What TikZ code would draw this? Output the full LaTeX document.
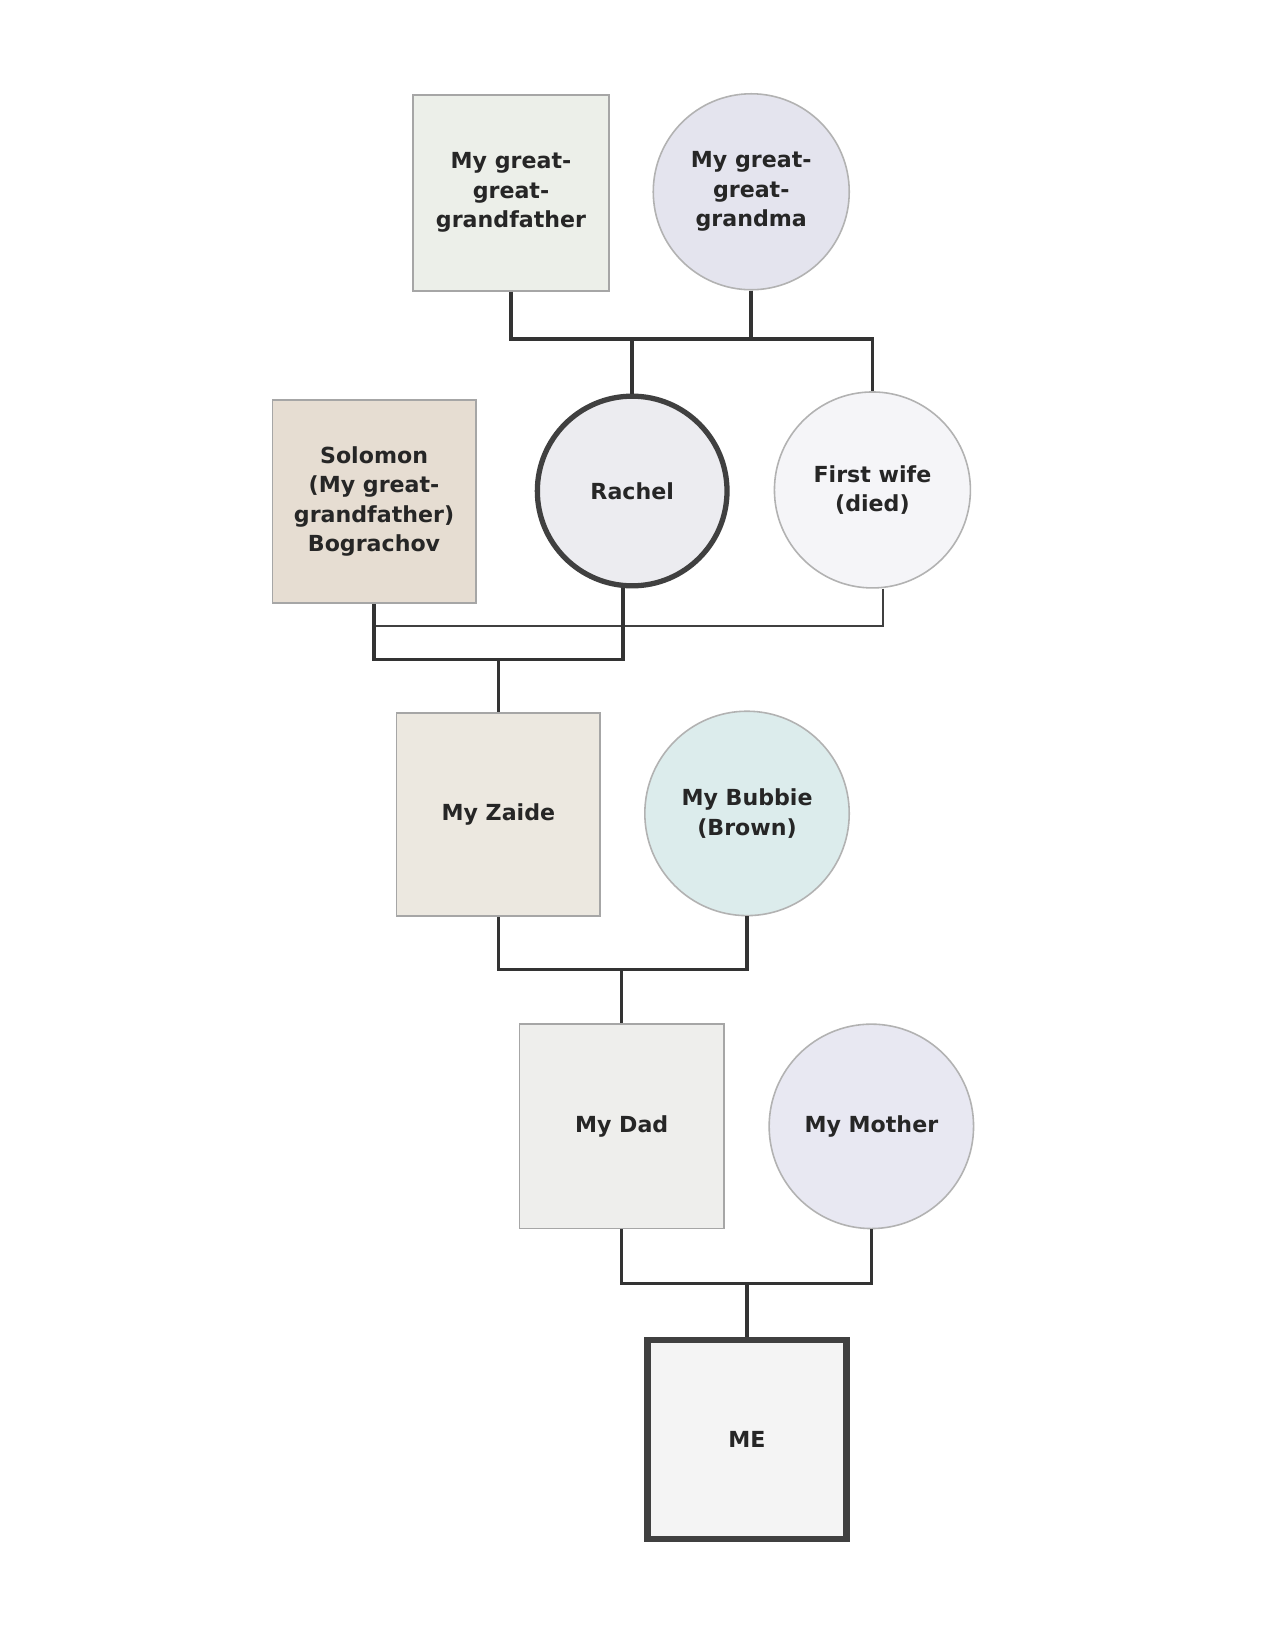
\documentclass[tikz,border=0pt]{standalone}
\usepackage{fontspec}
\setmainfont{DejaVu Sans}
\begin{document}
\begin{tikzpicture}[x=1pt,y=-1pt,
  txt/.style={font=\bfseries\fontsize{21}{28}\selectfont, text=black!85, align=center},
  sq/.style={txt, draw=gray!70, line width=1.5pt, minimum size=#1, inner sep=0pt},
  ci/.style={txt, circle, draw=gray!60, line width=1.5pt, minimum size=#1, inner sep=0pt},
  ln/.style={draw=black!80, line width=3.5pt},
  thin/.style={draw=black!75, line width=1.5pt}]
\useasboundingbox[fill=white] (0,0) rectangle (1210,1566);
\node[sq=186pt, fill={rgb,255:red,236;green,239;blue,233}] (ggf) at (485,183) {My great-\\great-\\grandfather};
\node[ci=186pt, fill={rgb,255:red,228;green,228;blue,238}] (ggm) at (713,182) {My great-\\great-\\grandma};
\node[sq=193pt, fill={rgb,255:red,230;green,221;blue,210}] (sol) at (355,476) {Solomon\\(My great-\\grandfather)\\Bograchov};
\node[ci=180pt, fill={rgb,255:red,236;green,236;blue,240}, draw=black!75, line width=5pt] (rac) at (600,466) {Rachel};
\node[ci=186pt, fill={rgb,255:red,245;green,245;blue,248}] (fw) at (828,465) {First wife\\(died)};
\node[sq=193pt, fill={rgb,255:red,236;green,232;blue,224}] (zai) at (473,773) {My Zaide};
\node[ci=194pt, fill={rgb,255:red,220;green,236;blue,236}] (bub) at (709,772) {My Bubbie\\(Brown)};
\node[sq=194pt, fill={rgb,255:red,238;green,238;blue,236}] (dad) at (590,1069) {My Dad};
\node[ci=194pt, fill={rgb,255:red,232;green,232;blue,242}] (mom) at (827,1069) {My Mother};
\node[sq=189pt, fill={rgb,255:red,244;green,244;blue,244}, draw=black!75, line width=6pt] (me) at (709,1366) {ME};
% lines
\draw[ln] (ggf.south) |- (828,322) -- (fw.north);
\draw[ln] (ggm.south) -- (713,322);
\draw[ln] (600,322) -- (rac.north);
\draw[thin] (fw.south -| 838,0) -- (838,594) -- (355,594);
\draw[ln] (sol.south) |- (591,626) -- (rac.south -| 591,0);
\draw[ln] (473,626) -- (zai.north);
\draw[ln] (zai.south) |- (709,920) -- (bub.south);
\draw[ln] (590,920) -- (dad.north);
\draw[ln] (dad.south) |- (827,1218) -- (mom.south);
\draw[ln] (709,1218) -- (me.north);
\end{tikzpicture}
\end{document}
